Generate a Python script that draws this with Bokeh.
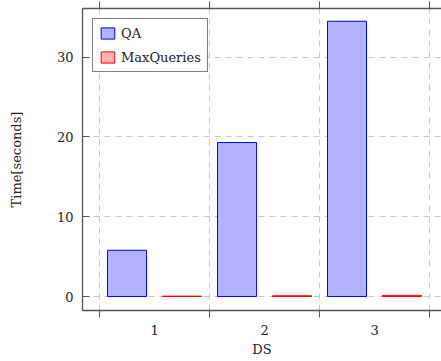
from bokeh.plotting import figure
from bokeh.models import ColumnDataSource, FixedTicker, LinearAxis, Legend, LegendItem, Range1d
from bokeh.transform import dodge
from bokeh.embed import file_html
from bokeh.resources import INLINE

# Run times per data set
datasets = [1, 2, 3]
qa_times = [5.8, 19.3, 34.5]
maxqueries_times = [0.05, 0.1, 0.15]
y_ticks = [0, 10, 20, 30]
x_tick_labels = {1: "1", 2: "2", 3: "3"}
group_edges = [0.5, 1.5, 2.5, 3.5]

FONT = "DejaVu Serif"
FRAME = "#555555"

src = ColumnDataSource(dict(ds=datasets, qa=qa_times, mq=maxqueries_times))

p = figure(width=441, height=361, output_backend="svg", toolbar_location=None,
           x_range=Range1d(0.345, 3.609), y_range=Range1d(-1.75, 36.1),
           x_axis_location=None, y_axis_location=None,
           min_border_left=82, min_border_right=0, min_border_top=8, min_border_bottom=51)
p.outline_line_color = None
p.background_fill_color = "white"
p.border_fill_color = "white"

bar_w = 0.355
qa_r = p.vbar(x=dodge("ds", -0.25), top="qa", bottom=0, width=bar_w, source=src,
              fill_color="#b3b3ff", line_color="#0000ff", line_width=1)
mq_r = p.vbar(x=dodge("ds", 0.25), top="mq", bottom=0, width=bar_w, source=src,
              fill_color="#ffb3b3", line_color="#ff0000", line_width=1)

# grids between groups and at y ticks
p.xgrid.ticker = FixedTicker(ticks=group_edges)
p.ygrid.ticker = FixedTicker(ticks=y_ticks)
for g in (p.xgrid, p.ygrid):
    g.grid_line_color = "#c8c8c8"
    g.grid_line_dash = "6 5"
    g.grid_line_width = 1

# bottom axis: labels at group centres, tick marks at group borders
xb = LinearAxis(ticker=FixedTicker(ticks=datasets, minor_ticks=group_edges),
                axis_label="DS")
xb.major_label_overrides = x_tick_labels
xb.major_tick_out = 0
xb.major_tick_in = 0
xb.minor_tick_out = 7
xb.minor_tick_in = 0
xb.major_label_standoff = 7
xb.axis_label_standoff = 4
p.add_layout(xb, "below")

# top axis: tick marks only
xt = LinearAxis(ticker=FixedTicker(ticks=group_edges, minor_ticks=[]))
xt.major_tick_out = 7
xt.major_tick_in = 0
xt.major_label_overrides = {t: "" for t in group_edges}
xt.major_label_standoff = 0
p.add_layout(xt, "above")

# left axis
yl = LinearAxis(ticker=FixedTicker(ticks=y_ticks, minor_ticks=[]), axis_label="Time[seconds]")
yl.major_tick_in = 7
yl.major_tick_out = 0
yl.major_label_standoff = 9
yl.axis_label_standoff = 30
p.add_layout(yl, "left")

for ax in (xb, xt, yl):
    ax.axis_line_color = FRAME
    ax.axis_line_width = 1.3
    ax.major_tick_line_color = FRAME
    ax.minor_tick_line_color = FRAME
    ax.major_label_text_font = FONT
    ax.major_label_text_font_size = "13px"
    ax.major_label_text_color = "#222222"
    ax.axis_label_text_font = FONT
    ax.axis_label_text_font_size = "13px"
    ax.axis_label_text_font_style = "normal"
    ax.axis_label_text_color = "#222222"

legend = Legend(items=[LegendItem(label="QA", renderers=[qa_r]),
                       LegendItem(label="MaxQueries", renderers=[mq_r])],
                location="top_left")
legend.margin = 10
legend.padding = 6
legend.spacing = 8
legend.glyph_width = 17
legend.glyph_height = 14
legend.label_height = 16
legend.label_standoff = 5
legend.label_text_font = FONT
legend.label_text_font_size = "13px"
legend.label_text_color = "#222222"
legend.border_line_color = "black"
legend.border_line_width = 1
legend.background_fill_alpha = 1
p.add_layout(legend, "center")

open("out.html", "w").write(file_html(p, INLINE))
